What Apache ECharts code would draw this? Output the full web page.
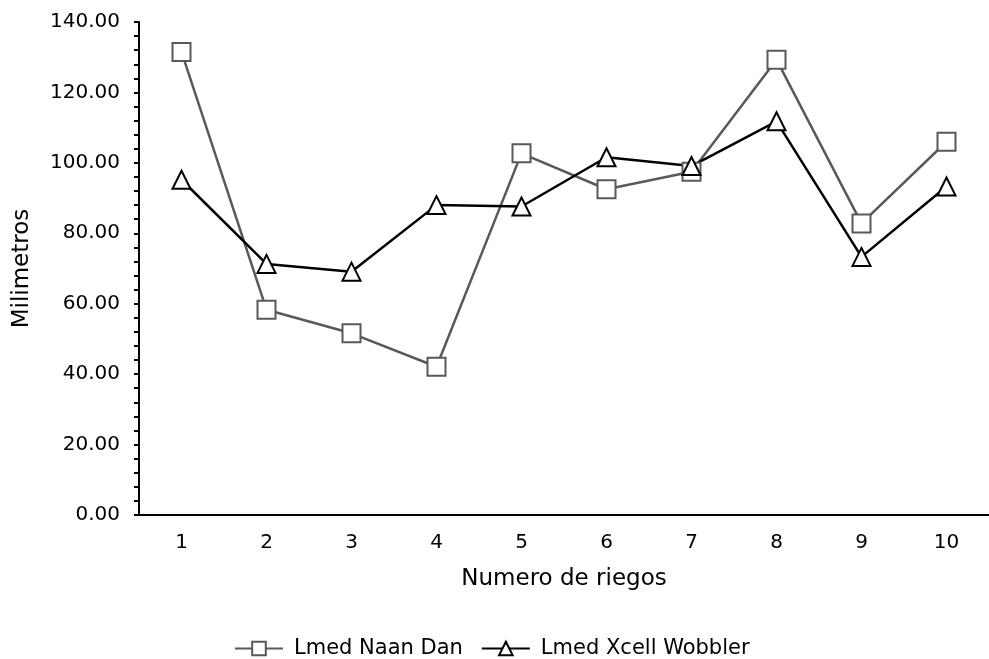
<!DOCTYPE html>
<html>
<head>
<meta charset="utf-8">
<script src="https://cdn.jsdelivr.net/npm/echarts@6/dist/echarts.min.js"></script>
<style>
  html, body { margin: 0; padding: 0; background: #fff; }
  #chart { width: 989px; height: 659px; }
</style>
</head>
<body>
<div id="chart"></div>
<script>
const categories = ['1', '2', '3', '4', '5', '6', '7', '8', '9', '10']
const naanDan = [131.5, 58.3, 51.6, 42.1, 102.7, 92.5, 97.5, 129.3, 82.8, 106.0]
const xcellWobbler = [95.2, 71.3, 69.1, 88.0, 87.6, 101.6, 99.1, 111.8, 73.3, 93.3]
const yTicks = { min: 0, max: 140, interval: 20 }

const font = 'DejaVu Sans, sans-serif'
const chart = echarts.init(document.getElementById('chart'))

chart.setOption({
  animation: false,
  textStyle: { fontFamily: font, color: '#000' },
  grid: { left: 139, top: 22, bottom: 144, width: 860 },
  legend: {
    bottom: -5,
    left: 229,
    itemGap: 18,
    itemWidth: 48,
    itemHeight: 17,
    textStyle: { fontSize: 21, color: '#000', fontFamily: font, padding: [0, 0, 0, 6] },
  },
  xAxis: {
    type: 'category',
    data: categories,
    boundaryGap: true,
    name: 'Numero de riegos',
    nameLocation: 'middle',
    nameGap: 53,
    nameTextStyle: { fontSize: 23, color: '#000', fontFamily: font },
    axisLine: { lineStyle: { color: '#000', width: 2 } },
    axisTick: { alignWithLabel: true, length: 5, lineStyle: { color: '#000', width: 2 } },
    axisLabel: { fontSize: 20, color: '#000', margin: 18, fontFamily: font },
    splitLine: { show: false },
  },
  yAxis: {
    type: 'value',
    min: yTicks.min,
    max: yTicks.max,
    interval: yTicks.interval,
    name: 'Milimetros',
    nameLocation: 'middle',
    nameGap: 105,
    nameTextStyle: { fontSize: 23, color: '#000', fontFamily: font },
    axisLine: { show: true, lineStyle: { color: '#000', width: 2 } },
    axisTick: { show: true, length: 5, lineStyle: { color: '#000', width: 2 } },
    minorTick: { show: true, splitNumber: 5, length: 5, lineStyle: { color: '#000', width: 2 } },
    axisLabel: {
      fontSize: 20, color: '#000', margin: 19, fontFamily: font,
      formatter: v => v.toFixed(2),
    },
    splitLine: { show: false },
  },
  series: [
    {
      name: 'Lmed Naan Dan',
      type: 'line',
      data: naanDan,
      symbol: 'emptyRect',
      symbolSize: 18,
      lineStyle: { color: '#595959', width: 2.5 },
      itemStyle: { color: '#595959', borderWidth: 2.7 },
    },
    {
      name: 'Lmed Xcell Wobbler',
      type: 'line',
      data: xcellWobbler,
      symbol: 'emptyTriangle',
      symbolSize: 18,
      lineStyle: { color: '#000', width: 2.5 },
      itemStyle: { color: '#000', borderWidth: 2.7 },
    },
  ],
})
</script>
</body>
</html>
